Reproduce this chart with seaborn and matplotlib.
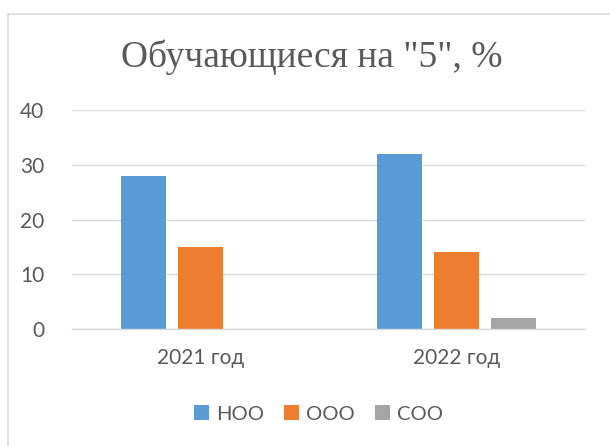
import matplotlib
matplotlib.use("Agg")
import matplotlib.pyplot as plt
import pandas as pd
import seaborn as sns
from matplotlib.patches import Rectangle

# Data
years = ["2021 год", "2022 год"]
levels = ["НОО", "ООО", "СОО"]
noo = [28, 32]
ooo = [15, 14]
soo = [0, 2]
colors = ["#5B9BD5", "#ED7D31", "#A5A5A5"]

df = pd.DataFrame({
    "year": years * 3,
    "level": [levels[0]] * 2 + [levels[1]] * 2 + [levels[2]] * 2,
    "value": noo + ooo + soo,
})

sns.set_style("white")
plt.rcParams["font.family"] = ["Lato", "DejaVu Sans"]

fig = plt.figure(figsize=(6.10, 4.46), dpi=100)
# outer chart border (cut off at right and bottom like the screenshot)
fig.patches.append(Rectangle((7.5 / 610, -0.1), 1.2, 1 - 13.5 / 446 + 0.1,
                             transform=fig.transFigure, fill=False,
                             edgecolor="#D9D9D9", linewidth=1.2))

ax = fig.add_axes([72 / 610, 1 - 329 / 446, 513 / 610, 219 / 446])
sns.barplot(data=df, x="year", y="value", hue="level", hue_order=levels,
            palette=colors, width=0.667, gap=0.21, saturation=1,
            errorbar=None, ax=ax, legend=True, linewidth=0)

ax.set_ylim(0, 40)
ax.set_yticks([0, 10, 20, 30, 40])
ax.yaxis.grid(True, color="#D9D9D9", linewidth=1)
ax.set_axisbelow(True)
for s in ["top", "right", "left"]:
    ax.spines[s].set_visible(False)
ax.spines["bottom"].set_color("#D9D9D9")
ax.spines["bottom"].set_linewidth(1)
ax.tick_params(axis="both", length=0, labelsize=15, labelcolor="#595959")
ax.tick_params(axis="y", pad=20)
ax.tick_params(axis="x", pad=14)
ax.set_xlabel("")
ax.set_ylabel("")

fig.text(0.511, 1 - 57 / 446, 'Обучающиеся на "5", %', ha="center", va="center",
         fontsize=27, color="#595959", family=["Liberation Serif", "DejaVu Serif"])

handles, labels = ax.get_legend_handles_labels()
ax.legend_.remove()
fig.legend(handles, labels, loc="center", bbox_to_anchor=(0.522, 1 - 414 / 446),
           ncol=3, frameon=False, fontsize=14.5, labelcolor="#595959",
           handlelength=0.75, handleheight=0.75, handletextpad=0.35,
           columnspacing=1.0)

fig.savefig("out.png", dpi=100)
